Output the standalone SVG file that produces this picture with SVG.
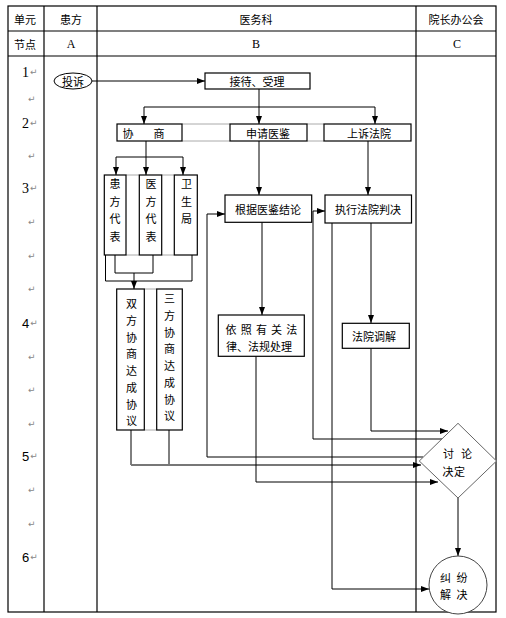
<svg xmlns="http://www.w3.org/2000/svg" width="506" height="618" viewBox="0 0 506 618">
<defs>
<marker id="ah" viewBox="0 0 8 6" refX="8" refY="3" markerWidth="8" markerHeight="6" markerUnits="userSpaceOnUse" orient="auto"><path d="M0,0 L8,3 L0,6 z" fill="#000"/></marker>
<style>
.t{font-family:"Noto Sans CJK SC","Liberation Sans",sans-serif;font-size:11px;fill:#000;dominant-baseline:central;text-anchor:middle}
.s{font-family:"Liberation Serif","Noto Sans CJK SC",serif;font-size:12px;fill:#000;dominant-baseline:central;text-anchor:middle}
.n{font-family:"Liberation Serif",serif;font-size:14px;fill:#000;dominant-baseline:central}
.n2{font-family:"Liberation Sans",sans-serif;font-size:13px;fill:#000;dominant-baseline:central}
.r{font-family:"DejaVu Sans",sans-serif;font-size:9px;fill:#888;dominant-baseline:central}
.b{fill:#fff;stroke:#000;stroke-width:1.2}
.g{stroke:#aaa;stroke-width:1;fill:none}
.c{fill:none;stroke:#000;stroke-width:1}
.a{marker-end:url(#ah)}
.tbl{fill:none;stroke:#000;stroke-width:1.2}
</style>
</defs>
<rect width="506" height="618" fill="#fff"/>
<g id="table">
<rect class="tbl" x="8" y="6" width="488" height="606"/>
<line class="tbl" x1="44" y1="6" x2="44" y2="612"/>
<line class="tbl" x1="97" y1="6" x2="97" y2="612"/>
<line class="tbl" x1="416" y1="6" x2="416" y2="612"/>
<line class="tbl" x1="8" y1="31" x2="496" y2="31"/>
<line class="tbl" x1="8" y1="56" x2="496" y2="56"/>
<text class="t" x="25" y="18.5">单元</text>
<text class="t" x="71" y="18.5">患方</text>
<text class="t" x="256" y="18.5">医务科</text>
<text class="t" x="456" y="18.5">院长办公会</text>
<text class="t" x="25" y="43.5">节点</text>
<text class="s" x="71" y="43.5">A</text>
<text class="s" x="256" y="43.5">B</text>
<text class="s" x="457" y="43.5">C</text>
</g>
<g id="rows">
<text class="n" x="22" y="72">1<tspan class="r" dx="1">↵</tspan></text>
<text class="r" x="28" y="99">↵</text>
<text class="n" x="22" y="123">2<tspan class="r" dx="1">↵</tspan></text>
<text class="r" x="28" y="156">↵</text>
<text class="n" x="22" y="188">3<tspan class="r" dx="1">↵</tspan></text>
<text class="r" x="28" y="222">↵</text>
<text class="r" x="28" y="256">↵</text>
<text class="r" x="28" y="289">↵</text>
<text class="n2" x="22" y="323">4<tspan class="r" dx="1">↵</tspan></text>
<text class="r" x="28" y="357">↵</text>
<text class="r" x="28" y="390">↵</text>
<text class="r" x="28" y="424">↵</text>
<text class="n2" x="22" y="456">5<tspan class="r" dx="1">↵</tspan></text>
<text class="r" x="28" y="490">↵</text>
<text class="r" x="28" y="524">↵</text>
<text class="n2" x="22" y="557">6<tspan class="r" dx="1">↵</tspan></text>
</g>
<g id="cellgrid">
<path class="g" d="M182,124 H230 M182,141 H230 M307,124 H324 M307,141 H324 M126,175 H139 M161.7,175 H174.3 M126,255 H139 M161.7,255 H174.3 M144.3,289 H156.7 M144.3,430 H156.7"/>
</g>
<g id="connectors">
<path class="c a" d="M92,81 H205"/>
<path class="c" d="M259,89 V107 M144,107 H375"/>
<path class="c a" d="M144,107 V124"/>
<path class="c a" d="M259,107 V124"/>
<path class="c a" d="M375,107 V124"/>
<path class="c" d="M146,141 V157 M116,157 H183"/>
<path class="c a" d="M116,157 V175"/>
<path class="c a" d="M146,157 V175"/>
<path class="c a" d="M183,157 V175"/>
<path class="c" d="M115,255 V273 H153 V255 M105.5,255 V281 H192 V255"/>
<path class="c a" d="M134,273 V289"/>
<path class="c a" d="M259,141 V195"/>
<path class="c a" d="M368,141 V195"/>
<path class="c a" d="M262,222 V315"/>
<path class="c a" d="M371,223 V323"/>
<path class="c" d="M131,430 V465 M169,430 V465"/>
<path class="a" d="M131,465 H421" fill="none" stroke="#777" stroke-width="2"/>
<path class="c a" d="M423,457 H207 V214 H225"/>
<path class="c a" d="M442,439 H313 V211 H325"/>
<path class="c a" d="M256,356 V482 H438"/>
<path class="c a" d="M371,348 V431 H448"/>
<path class="c a" d="M332,223 V589 H429"/>
<path class="c a" d="M458,498 V556"/>
</g>
<g id="n-complaint">
<ellipse cx="73" cy="81" rx="19" ry="8" fill="#fff" stroke="#000" stroke-width="1"/>
<text class="t" x="73" y="81">投诉</text>
</g>
<g id="n-reception">
<rect class="b" x="205" y="73" width="105" height="16"/>
<text class="t" x="257" y="81">接待、受理</text>
</g>
<g id="n-negotiate">
<rect class="b" x="117" y="124" width="65" height="17"/>
<text class="t" y="132.5"><tspan x="128">协</tspan><tspan x="159">商</tspan></text>
</g>
<g id="n-appraisal">
<rect class="b" x="230" y="124" width="77" height="17"/>
<text class="t" x="268" y="132.5">申请医鉴</text>
</g>
<g id="n-appeal">
<rect class="b" x="324" y="124" width="87" height="17"/>
<text class="t" x="369" y="132.5">上诉法院</text>
</g>
<g id="n-patient-rep">
<rect class="b" x="104.3" y="175" width="21.7" height="80"/>
<text class="t" x="115"><tspan x="115" y="183">患</tspan><tspan x="115" y="200.5">方</tspan><tspan x="115" y="218">代</tspan><tspan x="115" y="235.5">表</tspan></text>
</g>
<g id="n-hospital-rep">
<rect class="b" x="139.3" y="175" width="22.4" height="80"/>
<text class="t"><tspan x="151" y="183">医</tspan><tspan x="151" y="200.5">方</tspan><tspan x="151" y="218">代</tspan><tspan x="151" y="235.5">表</tspan></text>
</g>
<g id="n-health-bureau">
<rect class="b" x="174.3" y="175" width="23" height="80"/>
<text class="t"><tspan x="186.5" y="183">卫</tspan><tspan x="186.5" y="200.5">生</tspan><tspan x="186.5" y="218">局</tspan></text>
</g>
<g id="n-bilateral">
<rect class="b" x="116.7" y="289" width="27.6" height="141"/>
<text class="t"><tspan x="131.5" y="303.3">双</tspan><tspan x="131.5" y="320">方</tspan><tspan x="131.5" y="336.7">协</tspan><tspan x="131.5" y="353.4">商</tspan><tspan x="131.5" y="370.1">达</tspan><tspan x="131.5" y="386.8">成</tspan><tspan x="131.5" y="403.5">协</tspan><tspan x="131.5" y="420.2">议</tspan></text>
</g>
<g id="n-trilateral">
<rect class="b" x="156.7" y="289" width="25.6" height="141"/>
<text class="t"><tspan x="169.5" y="298.3">三</tspan><tspan x="169.5" y="315">方</tspan><tspan x="169.5" y="331.7">协</tspan><tspan x="169.5" y="348.4">商</tspan><tspan x="169.5" y="365.1">达</tspan><tspan x="169.5" y="381.8">成</tspan><tspan x="169.5" y="398.5">协</tspan><tspan x="169.5" y="415.2">议</tspan></text>
</g>
<g id="n-conclusion">
<rect class="b" x="225" y="195" width="86.7" height="27.3"/>
<text class="t" x="268" y="208.5">根据医鉴结论</text>
</g>
<g id="n-execute">
<rect class="b" x="325" y="195" width="86.5" height="28"/>
<text class="t" x="368" y="209">执行法院判决</text>
</g>
<g id="n-law">
<rect class="b" x="218.3" y="315" width="86" height="41.3"/>
<text class="t" y="329"><tspan x="231">依</tspan><tspan x="246.2">照</tspan><tspan x="261.4">有</tspan><tspan x="276.6">关</tspan><tspan x="291.8">法</tspan></text>
<text class="t" x="259" y="346">律、法规处理</text>
</g>
<g id="n-mediation">
<rect class="b" x="342.3" y="323.3" width="67" height="25"/>
<text class="t" x="374" y="336">法院调解</text>
</g>
<g id="n-discuss">
<polygon points="458,423.3 496.5,461 458,498 419.3,461" fill="#fff" stroke="#666" stroke-width="1"/>
<text class="t" y="453"><tspan x="448.5">讨</tspan><tspan x="466.5">论</tspan></text>
<text class="t" y="470.5"><tspan x="448">决</tspan><tspan x="459.5">定</tspan></text>
</g>
<g id="n-resolved">
<circle cx="458" cy="585" r="29" fill="#fff" stroke="#444" stroke-width="1"/>
<text class="t" y="577"><tspan x="445.5">纠</tspan><tspan x="462">纷</tspan></text>
<text class="t" y="593.5"><tspan x="445.5">解</tspan><tspan x="462">决</tspan></text>
</g>
</svg>
